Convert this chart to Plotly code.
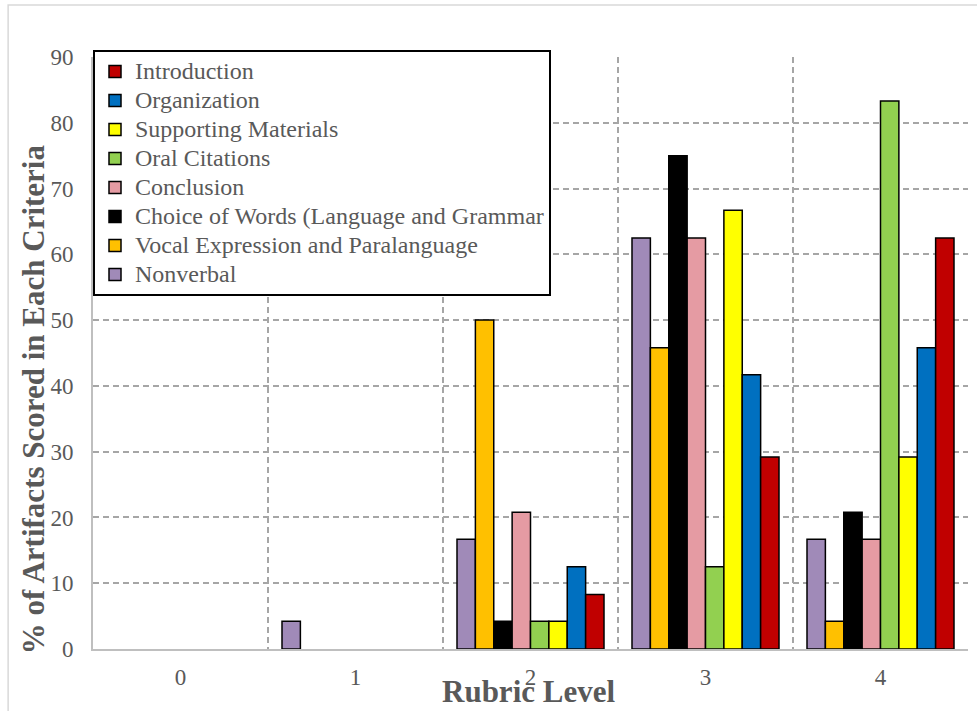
import plotly.graph_objects as go

# Rubric levels on the x axis
levels = ["0", "1", "2", "3", "4"]

# Percentage of artifacts at each rubric level, per criterion
nonverbal = [0, 4.2, 16.7, 62.5, 16.7]
vocal_expression = [0, 0, 50.0, 45.8, 4.2]
choice_of_words = [0, 0, 4.2, 75.0, 20.8]
conclusion = [0, 0, 20.8, 62.5, 16.7]
oral_citations = [0, 0, 4.2, 12.5, 83.3]
supporting_materials = [0, 0, 4.2, 66.7, 29.2]
organization = [0, 0, 12.5, 41.7, 45.8]
introduction = [0, 0, 8.3, 29.2, 62.5]

series = [
    ("Nonverbal", nonverbal, "#A08AB8"),
    ("Vocal Expression and Paralanguage", vocal_expression, "#FFC000"),
    ("Choice of Words (Language and Grammar", choice_of_words, "#000000"),
    ("Conclusion", conclusion, "#E59BA3"),
    ("Oral Citations", oral_citations, "#92D050"),
    ("Supporting Materials", supporting_materials, "#FFFF00"),
    ("Organization", organization, "#0070C0"),
    ("Introduction", introduction, "#C00000"),
]

FONT = "Liberation Serif"
GREY = "#595959"

fig = go.Figure()
for name, vals, color in series:
    fig.add_trace(go.Bar(
        # legend rows are spaced by the legend font size; the label itself is drawn larger
        name=f'<span style="font-size:24px">{name}</span>',
        x=levels,
        # empty levels are left blank so no outline shows along the baseline
        y=[v if v > 0 else None for v in vals],
        marker=dict(color=color, line=dict(color="#000000", width=1.5)),
    ))

fig.update_layout(
    width=977, height=711,
    margin=dict(l=93, r=9, t=57, b=62),
    paper_bgcolor="white", plot_bgcolor="white",
    barmode="group", bargap=0.16, bargroupgap=0,
    font=dict(family=FONT, color=GREY, size=23),
    showlegend=True,
    legend=dict(
        x=0, y=1.012, xanchor="left", yanchor="top",
        traceorder="reversed",
        bgcolor="white", bordercolor="#000000", borderwidth=2,
        font=dict(family=FONT, color=GREY, size=20),
        itemwidth=30,
    ),
    xaxis=dict(
        type="category", tickson="boundaries",
        showgrid=True, gridcolor="#A6A6A6", gridwidth=1.5, griddash="6px,4px",
        showline=True, linecolor="#BFBFBF", linewidth=2,
        ticks="", ticklabelstandoff=6,
        tickfont=dict(family=FONT, color=GREY, size=23),
    ),
    yaxis=dict(
        range=[0, 90], dtick=10,
        showgrid=True, gridcolor="#A6A6A6", gridwidth=1.5, griddash="6px,4px",
        showline=True, linecolor="#BFBFBF", linewidth=2,
        zeroline=False,
        ticks="", ticklabelstandoff=13,
        tickfont=dict(family=FONT, color=GREY, size=23),
    ),
    annotations=[
        dict(text="<b>Rubric Level</b>", xref="paper", yref="paper",
             x=0.498, y=-0.0726, xanchor="center", yanchor="middle",
             showarrow=False, font=dict(family=FONT, color=GREY, size=31)),
        dict(text="<b>% of Artifacts Scored in Each Criteria</b>",
             xref="paper", yref="paper", textangle=-90,
             x=-0.0686, y=0.422, xanchor="center", yanchor="middle",
             showarrow=False, font=dict(family=FONT, color=GREY, size=31)),
    ],
    shapes=[
        dict(type="rect", xref="paper", yref="paper",
             x0=-0.097, x1=1.05, y0=-0.2, y1=1.088,
             line=dict(color="#D9D9D9", width=1.5), layer="below"),
    ],
)

fig.write_html("out.html")
